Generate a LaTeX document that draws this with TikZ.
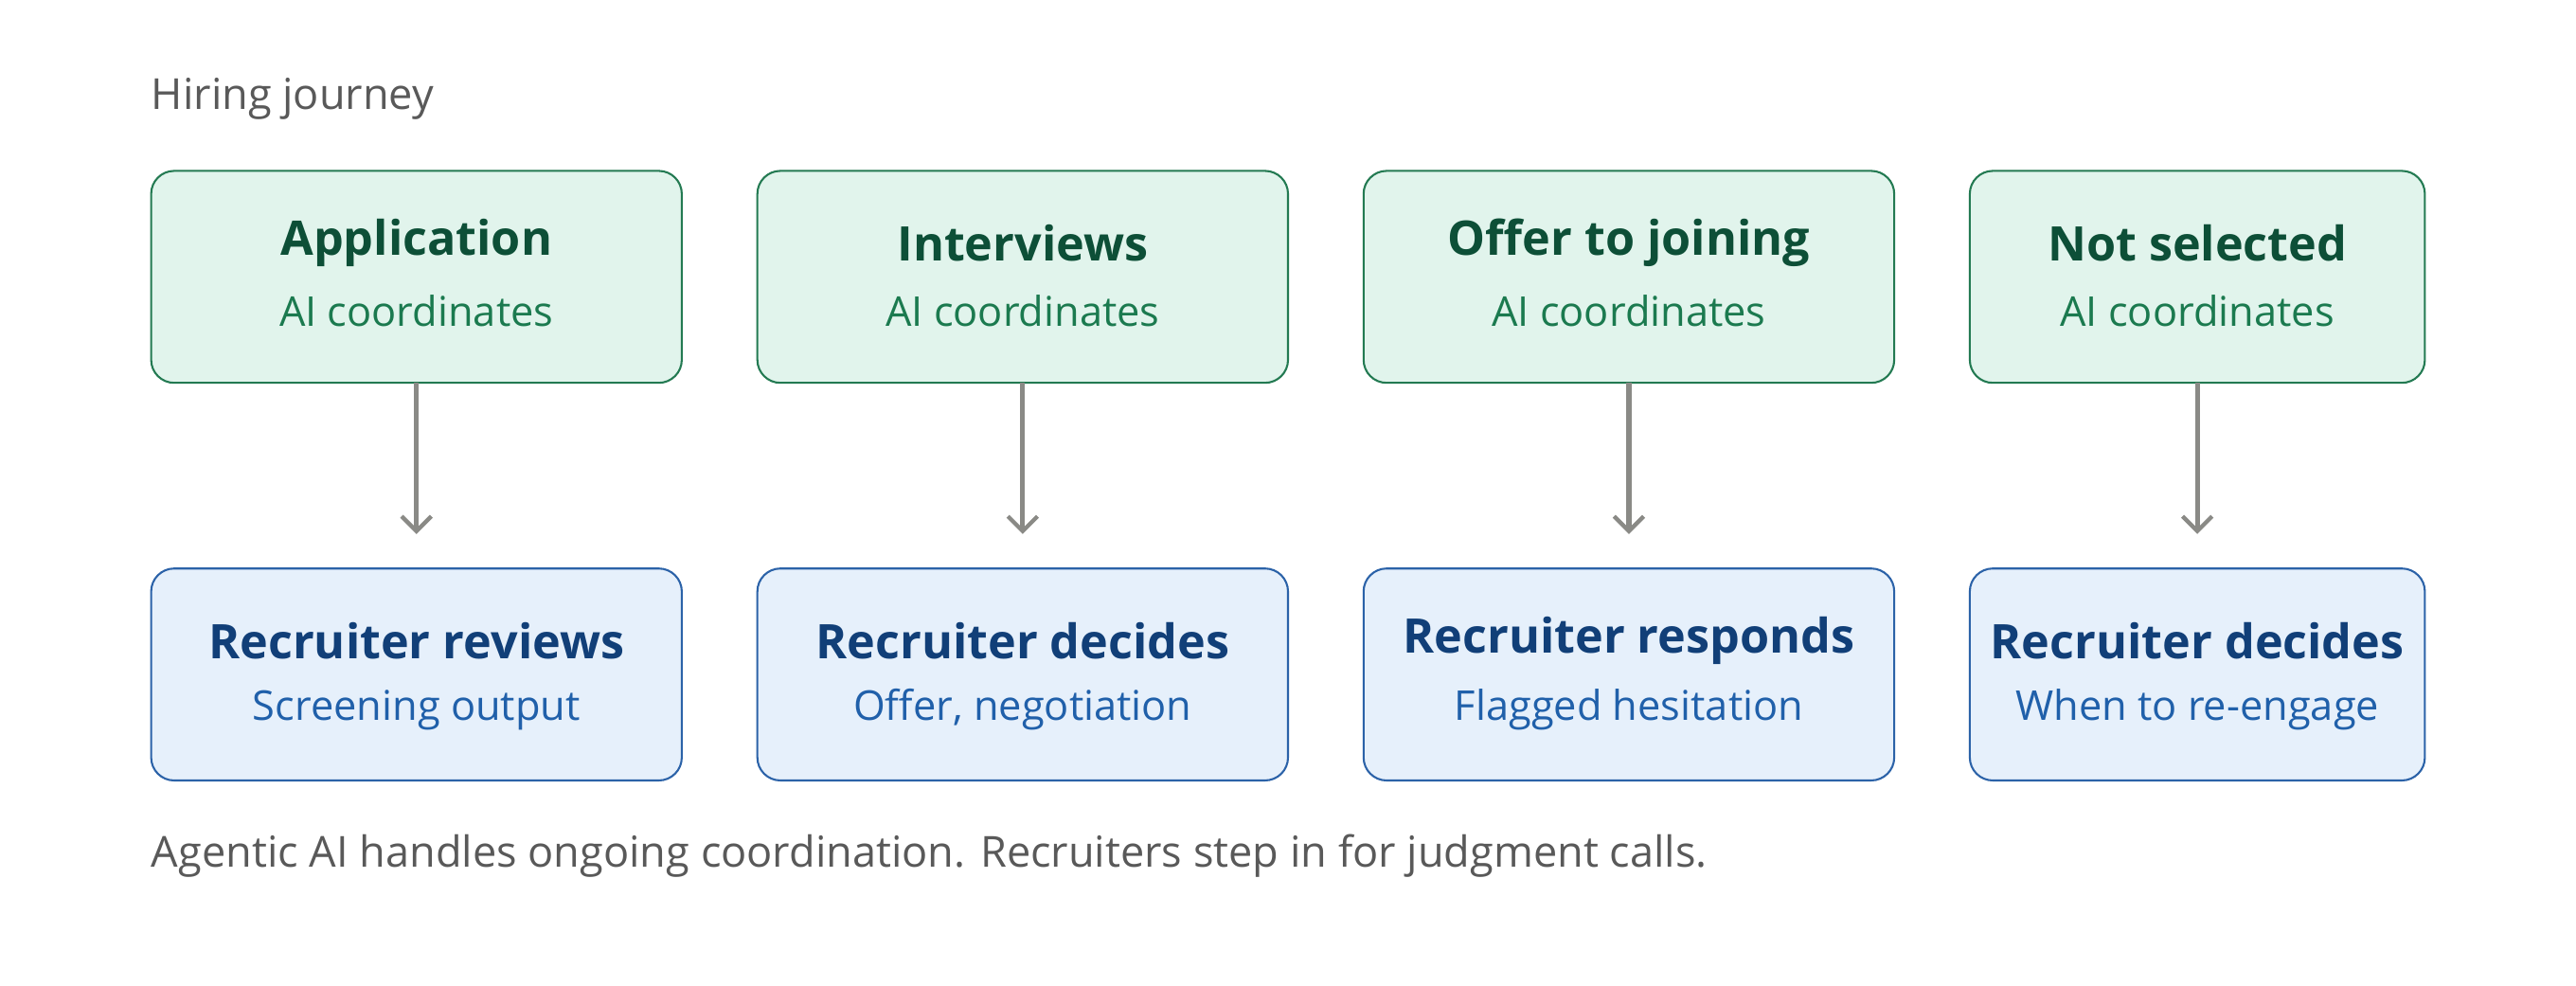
\documentclass[tikz,border=0pt]{standalone}
\usepackage{fontspec}
\setmainfont{Open Sans}
\usetikzlibrary{arrows.meta}
\definecolor{gfill}{HTML}{E1F4EC}\definecolor{gdraw}{HTML}{237A52}
\definecolor{ghead}{HTML}{0D4F37}\definecolor{gsub}{HTML}{1B7A4F}
\definecolor{bfill}{HTML}{E6F0FB}\definecolor{bdraw}{HTML}{2B62A8}
\definecolor{bhead}{HTML}{113F78}\definecolor{bsub}{HTML}{2060AA}
\definecolor{txt}{HTML}{595959}\definecolor{arr}{HTML}{8A8A86}
\begin{document}
\begin{tikzpicture}[x=1pt,y=-1pt,
 box/.style={rounded corners=14pt,line width=1.2pt,align=center,inner sep=0pt},
 gbox/.style={box,fill=gfill,draw=gdraw},
 bbox/.style={box,fill=bfill,draw=bdraw},
 head/.style={font=\fontsize{29}{34}\selectfont\bfseries},
 sub/.style={font=\fontsize{25}{30}\selectfont},
 conn/.style={draw=arr,line width=3pt,-{Straight Barb[length=9pt,width=18pt,line width=2.5pt]}},
 lbl/.style={anchor=west,text=txt,font=\fontsize{26}{30}\selectfont,inner sep=0pt}]
\useasboundingbox (0,0) rectangle (1568,600);
\node[lbl] (title) at (92,60) {Hiring journey};
\node[lbl] (foot) at (92,521) {Agentic AI handles ongoing coordination. Recruiters step in for judgment calls.};
\foreach \i/\xa/\xb/\h/\s/\bh/\bs in {
 1/92/415/Application/AI coordinates/Recruiter reviews/Screening output,
 2/461/784/Interviews/AI coordinates/Recruiter decides/{Offer, negotiation},
 3/830/1153/Offer to joining/AI coordinates/Recruiter responds/Flagged hesitation,
 4/1199/1476/Not selected/AI coordinates/Recruiter decides/When to re-engage}{
 \draw[gbox] (\xa,104) rectangle (\xb,233);
 \draw[bbox] (\xa,346) rectangle (\xb,475);
 \coordinate (t\i) at ({(\xa+\xb)/2},233);
 \coordinate (b\i) at ({(\xa+\xb)/2},325);
 \node[head,text=ghead] (gh\i) at ({(\xa+\xb)/2},148) {\h};
 \node[sub,text=gsub] (gs\i) at ({(\xa+\xb)/2},189) {\s};
 \node[head,text=bhead] (bh\i) at ({(\xa+\xb)/2},390) {\bh};
 \node[sub,text=bsub] (bs\i) at ({(\xa+\xb)/2},432) {\bs};
 \draw[conn] (t\i) -- (b\i);
}
\end{tikzpicture}
\end{document}
